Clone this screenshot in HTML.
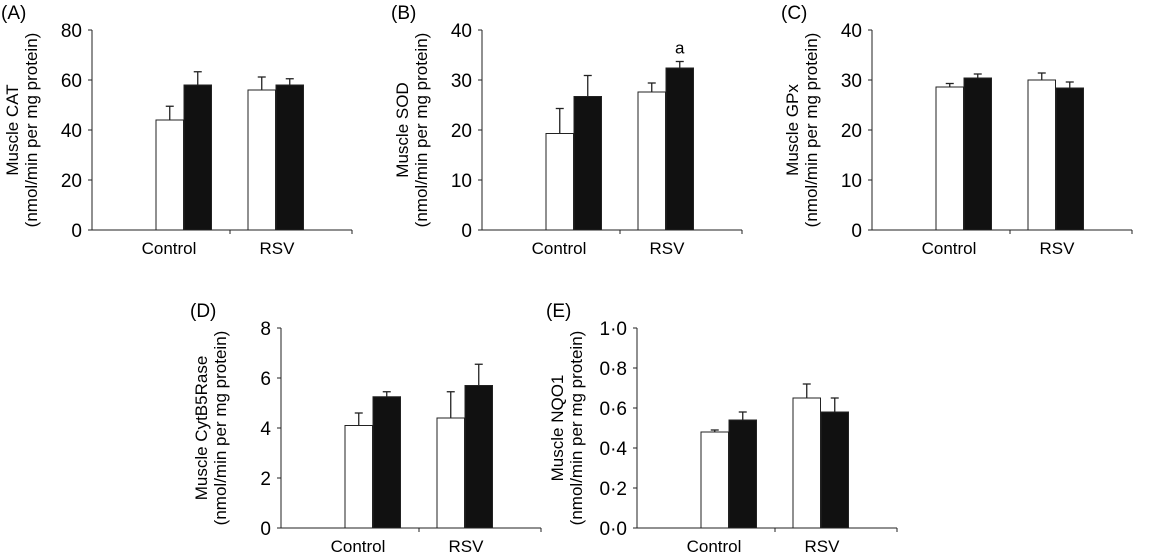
<!DOCTYPE html>
<html><head><meta charset="utf-8"><style>
html,body{margin:0;padding:0;background:#fff;}
svg{display:block;font-family:"Liberation Sans",Arial,sans-serif;}
</style></head><body>
<svg id="fig" width="1166" height="556" viewBox="0 0 1166 556" xmlns="http://www.w3.org/2000/svg"></svg>
<script>
const categories = ["Control", "RSV"];
const whiteVals = [[44, 56], [19.3, 27.6], [28.6, 30], [4.1, 4.4], [0.48, 0.65]];
const whiteErr  = [[5.5, 5.2], [5, 1.8], [0.7, 1.4], [0.5, 1.05], [0.01, 0.07]];
const blackVals = [[58, 58], [26.7, 32.4], [30.4, 28.4], [5.25, 5.7], [0.54, 0.58]];
const blackErr  = [[5.3, 2.5], [4.2, 1.3], [0.8, 1.2], [0.2, 0.85], [0.04, 0.07]];
const yMax = [80, 40, 40, 8, 1.0];
const yStep = [20, 10, 10, 2, 0.2];
const panelLabels = ["(A)", "(B)", "(C)", "(D)", "(E)"];
const yTitles = ["Muscle CAT", "Muscle SOD", "Muscle GPx", "Muscle CytB5Rase", "Muscle NQO1"];
const sigMarks = [[null,null],[null,"a"],[null,null],[null,null],[null,null]];

const layout = [
  {ax:92, top:30, bottom:230},
  {ax:482, top:30, bottom:230},
  {ax:872, top:30, bottom:230},
  {ax:281, top:328, bottom:528},
  {ax:637, top:328, bottom:528}
];
const NS = "http://www.w3.org/2000/svg";
const svg = document.getElementById("fig");
function el(tag, attrs, parent){
  const e = document.createElementNS(NS, tag);
  for (const k in attrs) e.setAttribute(k, attrs[k]);
  (parent||svg).appendChild(e);
  return e;
}
function fmt(v, i){
  if (i === 4) return v.toFixed(1).replace(".", "·");
  return String(Math.round(v));
}
for (let p = 0; p < 5; p++){
  const L = layout[p];
  const g = el("g", {});
  
  
  const y = v => L.bottom - (v / yMax[p]) * (L.bottom - L.top);
  const pairX = [L.ax + 92, L.ax + 184];
  const labX = [L.ax + 77, L.ax + 185];
  const pl = el("text", {x: L.ax - 91, y: L.top - 11, "font-size": 19}, g);
  pl.textContent = panelLabels[p];
  
  
  const cy = (L.top + L.bottom) / 2;
  const t1 = el("text", {x: 0, y: 0, "font-size": 17, "text-anchor": "middle", transform: `translate(${L.ax-74},${cy}) rotate(-90)`}, g);
  t1.textContent = yTitles[p];
  
  
  const t2 = el("text", {x: 0, y: 0, "font-size": 17, "text-anchor": "middle", transform: `translate(${L.ax-55},${cy}) rotate(-90)`}, g);
  t2.textContent = "(nmol/min per mg protein)";
  
  
  const ya = el("line", {x1: L.ax, y1: L.top, x2: L.ax, y2: L.bottom, stroke: "#222", "stroke-width": 1}, g);
  
  
  const xa = el("line", {x1: L.ax, y1: L.bottom, x2: L.ax + 260, y2: L.bottom, stroke: "#222", "stroke-width": 1}, g);
  
  
  el("line", {x1: L.ax + 138, y1: L.bottom, x2: L.ax + 138, y2: L.bottom + 4, stroke: "#222"}, g);
  el("line", {x1: L.ax + 260, y1: L.bottom, x2: L.ax + 260, y2: L.bottom + 4, stroke: "#222"}, g);
  for (let v = 0; v <= yMax[p] + 1e-9; v += yStep[p]){
    const yy = y(v);
    el("line", {x1: L.ax - 4, y1: yy, x2: L.ax, y2: yy, stroke: "#222"}, g);
    const tl = el("text", {x: L.ax - 10, y: yy + 7, "font-size": 19, "text-anchor": "end"}, g);
    tl.textContent = fmt(v, p);
    
    
  }
  for (let c = 0; c < 2; c++){
    const cl = el("text", {x: labX[c], y: L.bottom + 24, "font-size": 17, "text-anchor": "middle"}, g);
    cl.textContent = categories[c];
    
    
    const series = [[whiteVals, whiteErr, "#fff", pairX[c] - 28], [blackVals, blackErr, "#111", pairX[c]]];
    series.forEach((s, si) => {
      const v = s[0][p][c], e = s[1][p][c];
      const bx = s[3], bw = 27.5;
      const ex = bx + bw / 2;
      const et = y(v + e);
      el("line", {x1: ex, y1: y(v), x2: ex, y2: et, stroke: "#222", "stroke-width": 1.3}, g);
      el("line", {x1: ex - 4, y1: et, x2: ex + 4, y2: et, stroke: "#222", "stroke-width": 1.3}, g);
      const r = el("rect", {x: bx, y: y(v), width: bw, height: L.bottom - y(v), fill: s[2], stroke: "#222", "stroke-width": 1}, g);
      
      
      if (si === 1 && sigMarks[p][c]){
        const m = el("text", {x: ex, y: et - 8, "font-size": 17, "text-anchor": "middle"}, g);
        m.textContent = sigMarks[p][c];
        
        
      }
    });
  }
}
</script>
</body></html>
